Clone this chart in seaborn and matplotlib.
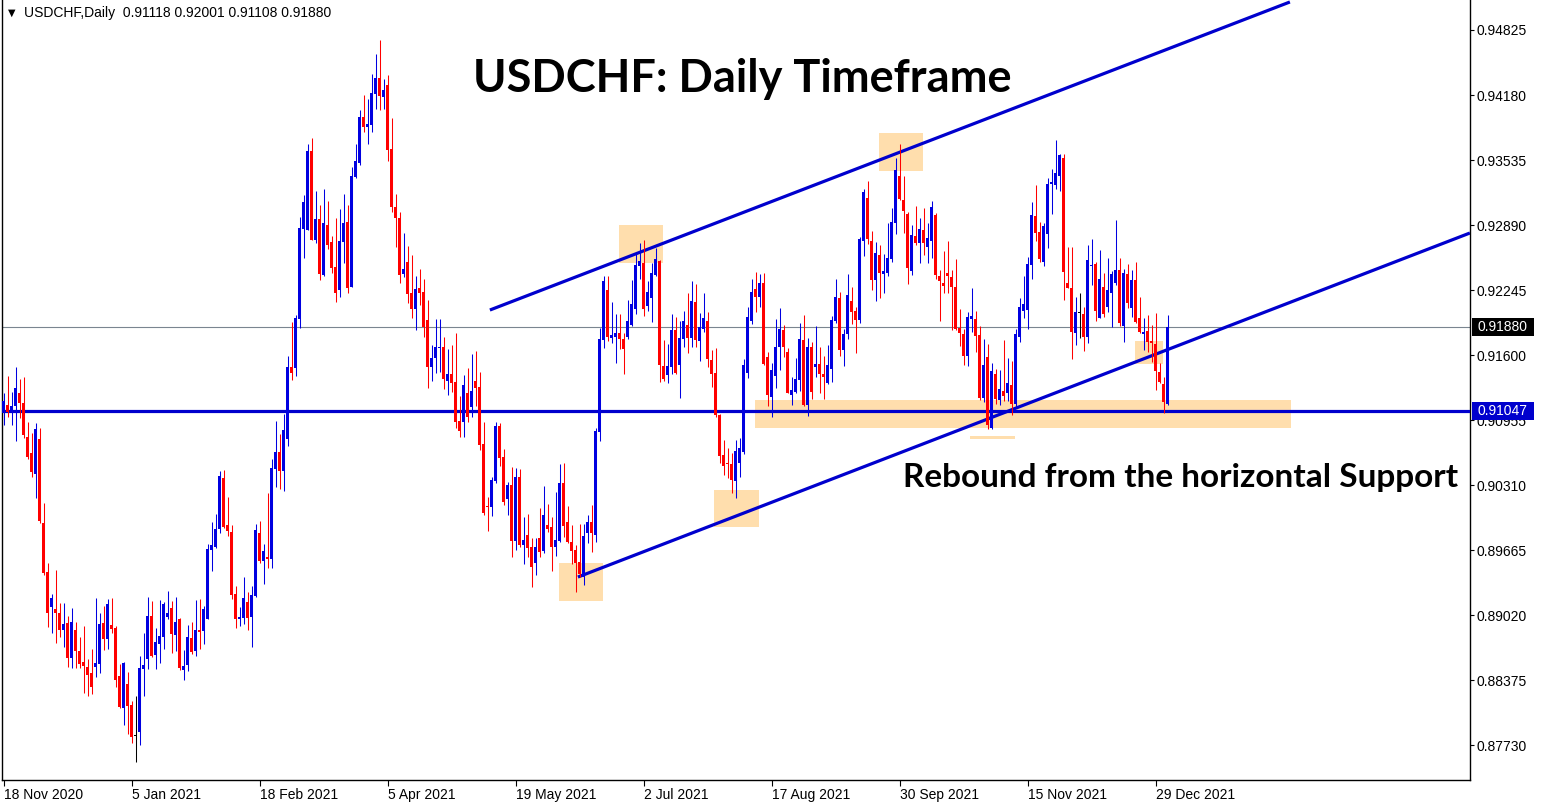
import numpy as np
import pandas as pd
import matplotlib
matplotlib.use("Agg")
import matplotlib.pyplot as plt
import matplotlib.transforms as mtransforms
from matplotlib.patches import Rectangle
import seaborn as sns

# USDCHF daily candles, values in 1e-4 (9106 -> 0.9106)
opens = [
    9106, 9110, 9104, 9109, 9122, 9112, 9079, 9063, 9042, 9077,
    8993, 8945, 8910, 8908, 8904, 8887, 8894, 8859, 8887, 8866,
    8856, 8851, 8845, 8851, 8854, 8894, 8878, 8892, 8889, 8842,
    8810, 8834, 8813, 8782, 8786, 8849, 8858, 8901, 8862, 8873,
    8880, 8900, 8909, 8882, 8898, 8848, 8853, 8879, 8866, 8887,
    8886, 8898, 8967, 8970, 8987, 9038, 8991, 8984, 8923, 8898,
    8899, 8915, 8900, 8921, 8983, 8956, 8960, 8958, 9047, 9064,
    9045, 9077, 9148, 9147, 9196, 9285, 9284, 9362, 9274, 9295,
    9239, 9289, 9272, 9247, 9225, 9272, 9292, 9228, 9337, 9351,
    9396, 9386, 9388, 9419, 9435, 9416, 9428, 9364, 9307, 9296,
    9240, 9252, 9222, 9206, 9227, 9223, 9195, 9148, 9157, 9167,
    9168, 9134, 9141, 9133, 9095, 9094, 9122, 9108, 9134, 9128,
    9072, 9010, 9009, 9035, 9090, 9059, 9017, 9031, 8976, 9039,
    8972, 8982, 8970, 8954, 8979, 8966, 8991, 8989, 8970, 8976,
    9033, 8994, 8975, 8967, 8955, 8940, 8983, 8994, 8982, 9084,
    9175, 9225, 9177, 9178, 9182, 9176, 9178, 9190, 9206, 9248,
    9251, 9209, 9217, 9239, 9253, 9149, 9140, 9148, 9185, 9150,
    9176, 9190, 9177, 9213, 9174, 9186, 9194, 9155, 9142, 9101,
    9061, 9053, 9052, 9035, 9053, 9064, 9142, 9194, 9226, 9218,
    9232, 9158, 9118, 9139, 9168, 9185, 9163, 9120, 9123, 9135,
    9175, 9110, 9168, 9148, 9151, 9141, 9132, 9146, 9194, 9217,
    9165, 9181, 9214, 9204, 9195, 9273, 9316, 9273, 9234, 9259,
    9240, 9241, 9255, 9291, 9338, 9314, 9300, 9243, 9278, 9271,
    9284, 9267, 9273, 9299, 9238, 9232, 9241, 9237, 9228, 9187,
    9181, 9159, 9196, 9196, 9180, 9117, 9158, 9088, 9141, 9115,
    9124, 9122, 9130, 9111, 9178, 9204, 9205, 9249, 9298, 9282,
    9252, 9280, 9330, 9329, 9338, 9356, 9232, 9227, 9182, 9202,
    9201, 9178, 9248, 9250, 9197, 9228, 9208, 9222, 9232, 9244,
    9189, 9240, 9207, 9234, 9197, 9181, 9184, 9174, 9171, 9143,
    9131, 9111.8,
]
highs = [
    9122, 9139, 9123, 9148, 9136, 9138, 9094, 9083, 9093, 9088,
    9013, 8954, 8923, 8947, 8914, 8914, 8901, 8909, 8895, 8880,
    8891, 8858, 8868, 8919, 8904, 8911, 8918, 8919, 8891, 8854,
    8856, 8846, 8817, 8822, 8861, 8884, 8920, 8916, 8889, 8917,
    8915, 8926, 8916, 8920, 8899, 8867, 8892, 8895, 8917, 8918,
    8911, 8973, 8994, 9002, 9045, 9046, 9019, 8991, 8931, 8910,
    8940, 8925, 8931, 8992, 8995, 8973, 9023, 9057, 9095, 9082,
    9102, 9159, 9193, 9200, 9297, 9319, 9369, 9375, 9323, 9309,
    9325, 9313, 9278, 9296, 9305, 9320, 9309, 9347, 9369, 9403,
    9418, 9414, 9439, 9459, 9473, 9434, 9438, 9395, 9320, 9302,
    9281, 9268, 9259, 9238, 9245, 9235, 9215, 9170, 9196, 9196,
    9178, 9166, 9170, 9182, 9119, 9140, 9147, 9161, 9164, 9143,
    9094, 9019, 9039, 9094, 9093, 9067, 9034, 9049, 9048, 9047,
    8999, 9002, 8979, 8979, 9008, 9030, 9012, 8999, 9024, 9052,
    9053, 9010, 8991, 8972, 8992, 8992, 9001, 9011, 9088, 9187,
    9238, 9238, 9213, 9201, 9201, 9182, 9215, 9234, 9260, 9271,
    9274, 9233, 9251, 9266, 9254, 9175, 9171, 9201, 9198, 9194,
    9204, 9222, 9233, 9231, 9202, 9222, 9203, 9165, 9167, 9102,
    9076, 9068, 9063, 9076, 9078, 9156, 9208, 9235, 9242, 9240,
    9241, 9163, 9152, 9196, 9207, 9190, 9167, 9138, 9157, 9192,
    9200, 9177, 9173, 9189, 9168, 9159, 9170, 9199, 9235, 9223,
    9186, 9240, 9228, 9208, 9277, 9325, 9333, 9283, 9272, 9269,
    9260, 9291, 9306, 9356, 9369, 9338, 9302, 9289, 9308, 9296,
    9306, 9291, 9313, 9301, 9244, 9263, 9273, 9244, 9255, 9206,
    9186, 9203, 9227, 9204, 9189, 9176, 9171, 9152, 9146, 9145,
    9175, 9157, 9154, 9186, 9217, 9238, 9257, 9312, 9329, 9292,
    9291, 9336, 9345, 9373, 9359, 9359, 9267, 9267, 9218, 9222,
    9208, 9269, 9275, 9252, 9264, 9241, 9256, 9243, 9294, 9256,
    9245, 9250, 9244, 9252, 9218, 9197, 9200, 9190, 9202, 9152,
    9138, 9200.1,
]
lows = [
    9091, 9099, 9091, 9075, 9098, 9078, 9057, 9039, 9018, 8993,
    8942, 8890, 8884, 8874, 8880, 8870, 8851, 8850, 8850, 8850,
    8825, 8822, 8824, 8841, 8845, 8867, 8868, 8884, 8831, 8810,
    8793, 8784, 8775, 8756, 8773, 8822, 8849, 8860, 8849, 8855,
    8868, 8898, 8864, 8866, 8848, 8838, 8847, 8863, 8861, 8868,
    8873, 8898, 8946, 8969, 8983, 8988, 8981, 8918, 8889, 8891,
    8893, 8887, 8870, 8920, 8954, 8933, 8949, 8949, 9029, 9027,
    9025, 9070, 9135, 9139, 9187, 9256, 9284, 9274, 9271, 9234,
    9238, 9265, 9241, 9213, 9218, 9251, 9222, 9228, 9336, 9349,
    9381, 9369, 9381, 9404, 9403, 9404, 9353, 9302, 9267, 9232,
    9237, 9212, 9197, 9185, 9210, 9178, 9127, 9134, 9142, 9143,
    9126, 9120, 9123, 9088, 9079, 9079, 9094, 9099, 9109, 9066,
    9001, 8985, 9000, 9033, 9050, 9011, 9001, 8960, 8967, 8970,
    8953, 8960, 8930, 8942, 8960, 8964, 8984, 8946, 8961, 8975,
    8980, 8974, 8953, 8925, 8940, 8932, 8974, 8965, 8975, 9075,
    9167, 9174, 9172, 9152, 9166, 9141, 9176, 9189, 9201, 9235,
    9199, 9204, 9193, 9238, 9133, 9134, 9132, 9141, 9141, 9117,
    9168, 9162, 9168, 9168, 9154, 9183, 9148, 9128, 9099, 9053,
    9041, 9038, 9023, 9018, 9039, 9062, 9137, 9191, 9203, 9208,
    9150, 9109, 9099, 9127, 9145, 9158, 9122, 9110, 9122, 9124,
    9109, 9100, 9116, 9138, 9122, 9116, 9131, 9133, 9192, 9159,
    9149, 9176, 9191, 9162, 9192, 9258, 9270, 9225, 9214, 9217,
    9222, 9238, 9252, 9280, 9314, 9281, 9231, 9239, 9269, 9251,
    9259, 9251, 9256, 9235, 9194, 9222, 9222, 9185, 9185, 9169,
    9150, 9149, 9183, 9163, 9115, 9113, 9087, 9087, 9111, 9110,
    9114, 9114, 9101, 9108, 9173, 9197, 9186, 9235, 9273, 9252,
    9248, 9266, 9300, 9325, 9323, 9215, 9227, 9156, 9170, 9177,
    9164, 9172, 9230, 9194, 9197, 9198, 9203, 9188, 9230, 9189,
    9173, 9207, 9198, 9192, 9182, 9165, 9163, 9153, 9125, 9132,
    9103, 9110.8,
]
closes = [
    9114, 9104, 9109, 9127, 9112, 9081, 9059, 9044, 9087, 8995,
    8944, 8904, 8919, 8904, 8887, 8893, 8859, 8895, 8866, 8854,
    8852, 8843, 8831, 8855, 8893, 8878, 8913, 8888, 8838, 8811,
    8855, 8812, 8781, 8782, 8850, 8853, 8901, 8861, 8875, 8881,
    8913, 8904, 8883, 8895, 8850, 8852, 8880, 8865, 8887, 8885,
    8908, 8968, 8972, 8987, 9040, 8989, 8985, 8922, 8898, 8900,
    8919, 8899, 8922, 8986, 8956, 8966, 8958, 9048, 9064, 9045,
    9086, 9148, 9142, 9197, 9286, 9312, 9362, 9274, 9295, 9240,
    9291, 9269, 9246, 9222, 9273, 9291, 9227, 9338, 9353, 9396,
    9386, 9389, 9420, 9435, 9417, 9423, 9363, 9307, 9296, 9239,
    9245, 9221, 9206, 9226, 9222, 9188, 9148, 9157, 9168, 9168,
    9136, 9141, 9132, 9094, 9085, 9130, 9099, 9124, 9127, 9071,
    9003, 9009, 9036, 9090, 9058, 9014, 9031, 8976, 9039, 8972,
    8977, 8969, 8950, 8970, 8965, 9001, 8987, 8970, 8977, 9033,
    8990, 8975, 8966, 8954, 8943, 8981, 8994, 8983, 9085, 9176,
    9233, 9178, 9180, 9182, 9176, 9166, 9194, 9211, 9249, 9253,
    9206, 9223, 9241, 9255, 9150, 9136, 9149, 9185, 9142, 9177,
    9194, 9177, 9214, 9175, 9188, 9197, 9156, 9141, 9101, 9060,
    9050, 9052, 9036, 9065, 9068, 9150, 9198, 9223, 9218, 9232,
    9151, 9120, 9145, 9168, 9186, 9168, 9122, 9125, 9136, 9176,
    9110, 9168, 9123, 9151, 9141, 9138, 9150, 9195, 9218, 9165,
    9181, 9220, 9203, 9195, 9275, 9322, 9275, 9234, 9261, 9241,
    9243, 9256, 9292, 9344, 9315, 9303, 9246, 9279, 9271, 9285,
    9271, 9276, 9307, 9239, 9233, 9229, 9238, 9228, 9186, 9182,
    9159, 9198, 9199, 9179, 9117, 9150, 9091, 9144, 9116, 9126,
    9119, 9132, 9111, 9181, 9208, 9211, 9250, 9299, 9281, 9255,
    9288, 9330, 9332, 9341, 9358, 9242, 9227, 9183, 9203, 9202,
    9178, 9254, 9249, 9204, 9235, 9201, 9225, 9240, 9244, 9192,
    9241, 9212, 9234, 9193, 9183, 9183, 9173, 9172, 9144, 9133,
    9113, 9188.0,
]

date_labels = ["18 Nov 2020", "5 Jan 2021", "18 Feb 2021", "5 Apr 2021", "19 May 2021",
               "2 Jul 2021", "17 Aug 2021", "30 Sep 2021", "15 Nov 2021", "29 Dec 2021"]
date_bars = [0, 32, 64, 96, 128, 160, 192, 224, 256, 288]
price_ticks = [0.94825, 0.94180, 0.93535, 0.92890, 0.92245, 0.91600,
               0.90955, 0.90310, 0.89665, 0.89020, 0.88375, 0.87730]

support = 0.91047
last_price = 0.91880
# trend lines: (bar, price) start and end
upper_channel = [(121.6, 0.92047), (321.6, 0.95103)]
lower_channel = [(143.6, 0.89398), (366.6, 0.92811)]
# highlighted zones: bar0, bar1, price_low, price_high
zones = [
    (153.9, 164.9, 0.92514, 0.92890),
    (218.9, 229.9, 0.93426, 0.93803),
    (177.6, 188.9, 0.89894, 0.90262),
    (138.9, 149.9, 0.89160, 0.89537),
    (187.9, 321.9, 0.90877, 0.91154),
    (282.9, 289.9, 0.91511, 0.91740),
    (241.6, 252.9, 0.90767, 0.90797),
]

df = pd.DataFrame({"open": opens, "high": highs, "low": lows, "close": closes}) / 10000
df["bar"] = np.arange(len(df))
df["color"] = np.where(df["close"] > df["open"], "#0000E0",
                       np.where(df["close"] < df["open"], "#FF0000", "#000000"))

sns.set_theme(style="white")
plt.rcParams["font.family"] = ["Liberation Sans", "DejaVu Sans"]

W, H = 1542, 807
fig = plt.figure(figsize=(W / 100, H / 100), dpi=100)
ax = fig.add_axes([2 / W, 27 / H, 1468 / W, 780 / H])
ax.set_facecolor("white")

BLUE = "#0000CD"
PEACH = "#FFDEAD"

for b0, b1, lo, hi in zones:
    ax.add_patch(Rectangle((b0, lo), b1 - b0, hi - lo, facecolor=PEACH,
                           edgecolor="none", zorder=1))

ax.axhline(last_price, color="#7a8590", lw=0.8, zorder=2)
ax.axhline(support, color=BLUE, lw=2.3, zorder=3)
for line in (upper_channel, lower_channel):
    (x0, y0), (x1, y1) = line
    ax.plot([x0, x1], [y0, y1], color=BLUE, lw=2.3, zorder=3,
            solid_capstyle="butt")

# candles
ax.vlines(df["bar"], df["low"], df["high"], colors=df["color"], lw=0.75, zorder=4)
body_lo = df[["open", "close"]].min(axis=1)
body_h = np.maximum((df["close"] - df["open"]).abs(), 0.00011)
ax.bar(df["bar"], body_h, bottom=body_lo, width=0.75, color=df["color"],
       linewidth=0, zorder=5)

ax.set_xlim(-0.375, 366.625)
ax.set_ylim(0.873845, 0.951226)

for side in ["left", "bottom", "right"]:
    ax.spines[side].set_visible(True)
    ax.spines[side].set_color("black")
    ax.spines[side].set_linewidth(1.0)
ax.spines["top"].set_visible(False)

ax.yaxis.tick_right()
ax.set_yticks(price_ticks)
ax.set_yticklabels([f"{p:.5f}" for p in price_ticks])
ax.set_xticks(date_bars)
ax.set_xticklabels(date_labels, ha="left")
ax.tick_params(axis="y", which="both", right=True, left=False, direction="out",
               length=3, width=0.8, pad=2, labelsize=10, colors="black")
ax.tick_params(axis="x", which="both", bottom=True, direction="out",
               length=4, width=0.8, pad=2, labelsize=10, colors="black")
ax.grid(False)

# price boxes on the right scale
blend = mtransforms.blended_transform_factory(fig.transFigure, ax.transData)
box_h = 18 / 10080
for price, bg in [(last_price, "black"), (support, BLUE)]:
    ax.add_patch(Rectangle((1472 / W, price - box_h / 2), 62 / W, box_h,
                           transform=blend, facecolor=bg, edgecolor="none",
                           clip_on=False, zorder=10))
    ax.text(1477 / W, price, f"{price:.5f}", transform=blend, color="white",
            fontsize=10, va="center", ha="left", zorder=11, clip_on=False)

fig.text(8 / W, 1 - 13 / H, "\u25bc", fontsize=7, va="center", ha="left",
         family="DejaVu Sans", color="black")
fig.text(24 / W, 1 - 13 / H, "USDCHF,Daily  0.91118 0.92001 0.91108 0.91880",
         fontsize=10, va="center", ha="left", color="black")

fig.text(742 / W, 1 - 92 / H, "USDCHF: Daily Timeframe", fontsize=32.5,
         fontweight="bold", family="Lato", ha="center", va="baseline", color="black")
fig.text(903 / W, 1 - 487 / H, "Rebound from the horizontal Support", fontsize=24,
         fontweight="bold", family="Lato", ha="left", va="baseline", color="black")

fig.savefig("out.png", dpi=100, facecolor="white")
